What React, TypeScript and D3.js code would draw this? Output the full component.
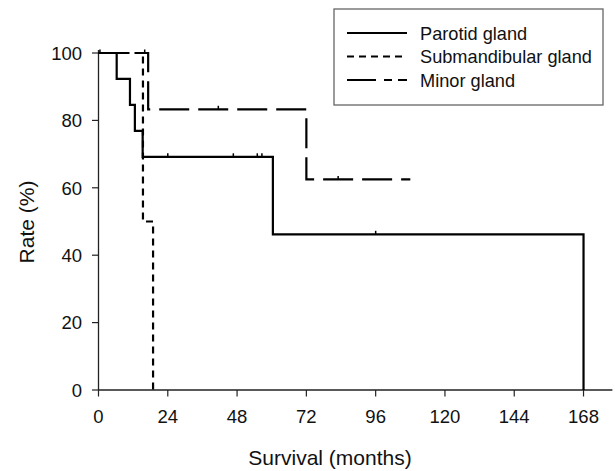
import React from "react";
import * as d3 from "d3";

// Kaplan-Meier steps (months, %)
const parotidTimes = [0, 6.3, 10.9, 12.6, 15.3, 60.4, 168];
const parotidRates = [100, 92.3, 84.6, 76.9, 69.2, 46.2, 0];
const parotidCensored = [0.5, 24, 46.7, 55, 56.6, 96];

const submandibularTimes = [0, 15.4, 18.9];
const submandibularRates = [100, 50, 0];

const minorTimes = [0, 17.2, 72, 108];
const minorRates = [100, 83.3, 62.5, 62.5];
const minorCensored = [16, 41.5, 83];

const xTicks = [0, 24, 48, 72, 96, 120, 144, 168];
const yTicks = [0, 20, 40, 60, 80, 100];

const legendLabels = ["Parotid gland", "Submandibular gland", "Minor gland"];
const legendDash = ["none", "7 5", "29 8 8 6 9 100"];
const seriesDash = ["none", "7 5", "30 9"];

const FONT = "'Liberation Sans', Arial, sans-serif";

export default function App() {
  const width = 615;
  const height = 471;

  const x = d3.scaleLinear().domain([0, 178]).range([98.5, 612.4]);
  const y = d3.scaleLinear().domain([0, 100]).range([390, 53]);

  const line = d3
    .line<[number, number]>()
    .x((d) => x(d[0]))
    .y((d) => y(d[1]))
    .curve(d3.curveStepAfter);

  const zip = (t: number[], r: number[]) =>
    t.map((v, i) => [v, r[i]] as [number, number]);

  const series = [
    zip(parotidTimes, parotidRates),
    zip(submandibularTimes, submandibularRates),
    zip(minorTimes, minorRates),
  ];

  // rate of a step curve at time t
  const rateAt = (t: number, times: number[], rates: number[]) => {
    let r = rates[0];
    times.forEach((tt, i) => {
      if (tt <= t) r = rates[i];
    });
    return r;
  };

  const censors = [
    ...parotidCensored.map((t) => [t, rateAt(t, parotidTimes, parotidRates)]),
    ...minorCensored.map((t) => [t, rateAt(t, minorTimes, minorRates)]),
  ];

  const rowY = [33, 56.5, 80];

  return (
    <svg
      width={width}
      height={height}
      style={{ position: "absolute", left: 0, top: 0, background: "#fff" }}
      fontFamily={FONT}
    >
      {/* axes */}
      <line x1={x(0)} x2={x(0)} y1={50} y2={390} stroke="#222" strokeWidth={1.3} />
      <line x1={x(0)} x2={x(178)} y1={390} y2={390} stroke="#222" strokeWidth={1.3} />
      {yTicks.map((t) => (
        <g key={"y" + t}>
          <line x1={x(0) - 6.5} x2={x(0)} y1={y(t)} y2={y(t)} stroke="#222" strokeWidth={1.2} />
          <text
            x={82}
            y={y(t) + 6.8}
            textAnchor="end"
            fontSize={18.5}
            fill="#111"
          >
            {t}
          </text>
        </g>
      ))}
      {xTicks.map((t) => (
        <g key={"x" + t}>
          <line x1={x(t)} x2={x(t)} y1={390} y2={396.5} stroke="#222" strokeWidth={1.2} />
          <text x={x(t)} y={423} textAnchor="middle" fontSize={18.5} fill="#111">
            {t}
          </text>
        </g>
      ))}
      <text x={330} y={465} textAnchor="middle" fontSize={21} fill="#111">
        Survival (months)
      </text>
      <text
        transform="translate(34,222) rotate(-90)"
        textAnchor="middle"
        fontSize={21}
        fill="#111"
      >
        Rate (%)
      </text>

      {/* curves */}
      {series.map((s, i) => (
        <path
          key={"s" + i}
          d={line(s) || ""}
          fill="none"
          stroke="#000"
          strokeWidth={2.2}
          strokeDasharray={seriesDash[i]}
        />
      ))}
      {censors.map((c, i) => (
        <line
          key={"c" + i}
          x1={x(c[0])}
          x2={x(c[0])}
          y1={y(c[1]) - 3.5}
          y2={y(c[1])}
          stroke="#000"
          strokeWidth={1.5}
        />
      ))}

      {/* legend */}
      <rect x={334} y={9} width={269} height={96} fill="#fff" stroke="#666" strokeWidth={1.3} />
      {legendLabels.map((l, i) => (
        <g key={"l" + i}>
          <line
            x1={347}
            x2={407}
            y1={rowY[i]}
            y2={rowY[i]}
            stroke="#000"
            strokeWidth={2.2}
            strokeDasharray={legendDash[i]}
          />
          <text x={420} y={rowY[i] + 6.8} fontSize={18.2} fill="#111">
            {l}
          </text>
        </g>
      ))}
    </svg>
  );
}
